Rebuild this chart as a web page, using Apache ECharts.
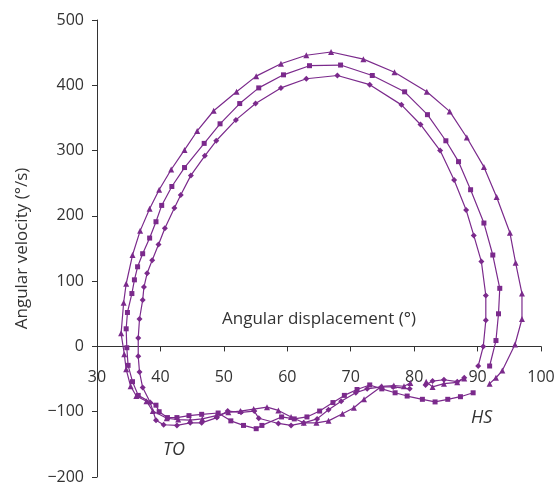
<!DOCTYPE html>
<html>
<head>
<meta charset="utf-8">
<script src="https://cdn.jsdelivr.net/npm/echarts@6/dist/echarts.min.js"></script>
<style>html,body{margin:0;padding:0;background:#fff}#c{width:556px;height:486px}</style>
</head>
<body>
<div id="c"></div>
<script>
const xTicks = [30, 40, 50, 60, 70, 80, 90, 100];
const yTicks = [-200, -100, 0, 100, 200, 300, 400, 500];

const triangleHS = [[81.9,-54],[82.9,-62],[84.7,-57],[86.8,-55],[87.9,-49]];
const diamondHS = [[81.8,-59],[82.9,-53],[84.7,-51],[86.8,-54],[87.9,-48]];

const triangleLoop = [[79.4,-56],[78.4,-61],[76.8,-60],[74.9,-61],[72.1,-81],[70.5,-94],[68.7,-103],[66.5,-114],[64.6,-117],[62.6,-117],[60.6,-108],[58.6,-98],[56.8,-93],[54.7,-96],[52.6,-99],[50.7,-101],[48.8,-106],[46.6,-111],[44.7,-113],[42.8,-112],[41.0,-110],[38.8,-99],[37.8,-84],[36.2,-76],[35.3,-61],[34.6,-35],[34.3,-12],[33.8,20],[34.2,67],[34.6,96],[35.6,140],[36.8,177],[38.3,211],[39.8,240],[41.7,271],[43.8,301],[45.8,330],[48.4,361],[52.0,390],[55.1,414],[59.0,433],[63.0,446],[66.9,451],[72.0,440],[76.9,420],[82.0,390],[85.6,360],[88.3,320],[91.0,275],[93.0,229],[95.1,174],[96.0,128],[97.0,81],[97.0,42],[95.9,3],[93.9,-37],[92.9,-48],[91.9,-57]];

const squareLoop = [[89.3,-71],[87.3,-77],[85.3,-81],[83.3,-85],[81.3,-81],[78.9,-76],[77.0,-71],[74.9,-65],[73.0,-59],[71.0,-66],[69.0,-75],[67.2,-86],[65.1,-99],[63.1,-108],[61.1,-111],[59.1,-108],[56.0,-121],[55.1,-126],[53.1,-121],[51.1,-114],[49.1,-102],[46.5,-104],[44.5,-106],[42.6,-109],[41.1,-109],[39.8,-100],[39.3,-90],[36.5,-75],[35.6,-54],[34.9,-29],[34.7,-2],[34.6,27],[34.8,52],[35.5,81],[35.9,102],[36.4,122],[37.2,142],[38.3,166],[39.3,191],[40.2,216],[41.8,245],[43.8,274],[46.9,311],[49.4,341],[52.5,372],[55.5,396],[59.4,416],[63.5,430],[68.4,431],[73.4,415],[78.5,390],[82.1,355],[85.0,315],[87.0,283],[88.9,240],[91.0,189],[92.4,140],[93.5,89],[93.3,50],[92.9,9],[91.9,-30]];

const diamondLoop = [[79.3,-65],[76.7,-62],[74.8,-62],[72.6,-65],[70.8,-71],[68.5,-84],[66.5,-97],[64.7,-111],[62.6,-117],[60.6,-121],[58.6,-118],[55.5,-110],[54.8,-99],[52.7,-101],[50.6,-99],[48.9,-109],[46.5,-117],[44.7,-117],[42.6,-121],[40.5,-120],[39.3,-113],[38.4,-86],[37.2,-63],[36.7,-39],[36.5,-15],[36.5,13],[36.7,42],[37.2,71],[37.4,91],[37.9,112],[38.7,132],[39.7,156],[40.7,181],[42.2,212],[43.2,232],[44.8,262],[47.0,292],[48.8,315],[51.9,347],[55.0,372],[59.0,396],[63.0,410],[67.9,415],[73.0,401],[78.0,370],[81.0,340],[84.1,300],[86.3,255],[88.2,209],[89.4,170],[90.6,130],[91.3,78],[91.3,40],[90.9,0],[90.1,-30]];

const PURPLE = '#7b2a8c';
const FONT = 'Open Sans';
const AXC = '#333333';

const GRID = { left: 97, right: 15, top: 20, bottom: 9 };
const H = 486;
const gridH = H - GRID.top - GRID.bottom;
const yMin = yTicks[0], yMax = yTicks[yTicks.length - 1];
const zeroOffset = -(0 - yMin) / (yMax - yMin) * gridH;

function mk(data, symbol, size) {
  return {
    type: 'line', data: data, symbol: symbol, symbolSize: size,
    showAllSymbol: true, smooth: false, animation: false,
    lineStyle: { color: PURPLE, width: 1.2 },
    itemStyle: { color: PURPLE }
  };
}

const chart = echarts.init(document.getElementById('c'));
chart.setOption({
  backgroundColor: '#fff',
  animation: false,
  grid: Object.assign({ containLabel: false, outerBoundsMode: 'none' }, GRID),
  xAxis: {
    type: 'value', min: xTicks[0], max: xTicks[xTicks.length-1], interval: 10,
    position: 'bottom', offset: zeroOffset,
    name: 'Angular displacement (°)', nameLocation: 'middle', nameGap: -27,
    nameTextStyle: { fontFamily: FONT, fontSize: 17, color: AXC, verticalAlign: 'middle' },
    axisLine: { onZero: false, lineStyle: { color: AXC, width: 1 } },
    axisTick: { show: true, inside: false, length: 5, lineStyle: { color: AXC } },
    axisLabel: { margin: 31, fontFamily: FONT, fontSize: 16, color: AXC, verticalAlign: 'middle', showMinLabel: true, showMaxLabel: true },
    splitLine: { show: false }
  },
  yAxis: {
    type: 'value', min: yMin, max: yMax, interval: 100,
    name: 'Angular velocity (°/s)', nameLocation: 'middle', nameGap: 66, nameRotate: 90,
    nameTextStyle: { fontFamily: FONT, fontSize: 17, color: AXC },
    axisLine: { show: true, onZero: false, lineStyle: { color: AXC, width: 1 } },
    axisTick: { show: true, inside: false, length: 5, lineStyle: { color: AXC } },
    axisLabel: { margin: 13, fontFamily: FONT, fontSize: 16, color: AXC,
      formatter: v => String(v).replace('-', '\u2212') },
    splitLine: { show: false }
  },
  graphic: [
    { type: 'text', left: 163, top: 441, style: { text: 'TO', font: 'italic 18px "Open Sans"', fill: AXC } },
    { type: 'text', left: 471, top: 409, style: { text: 'HS', font: 'italic 18px "Open Sans"', fill: AXC } }
  ],
  series: [
    mk(triangleLoop, 'triangle', 6),
    mk(triangleHS, 'triangle', 6),
    mk(squareLoop, 'rect', 5),
    mk(diamondLoop, 'diamond', 6),
    mk(diamondHS, 'diamond', 6)
  ]
});
</script>
</body>
</html>
